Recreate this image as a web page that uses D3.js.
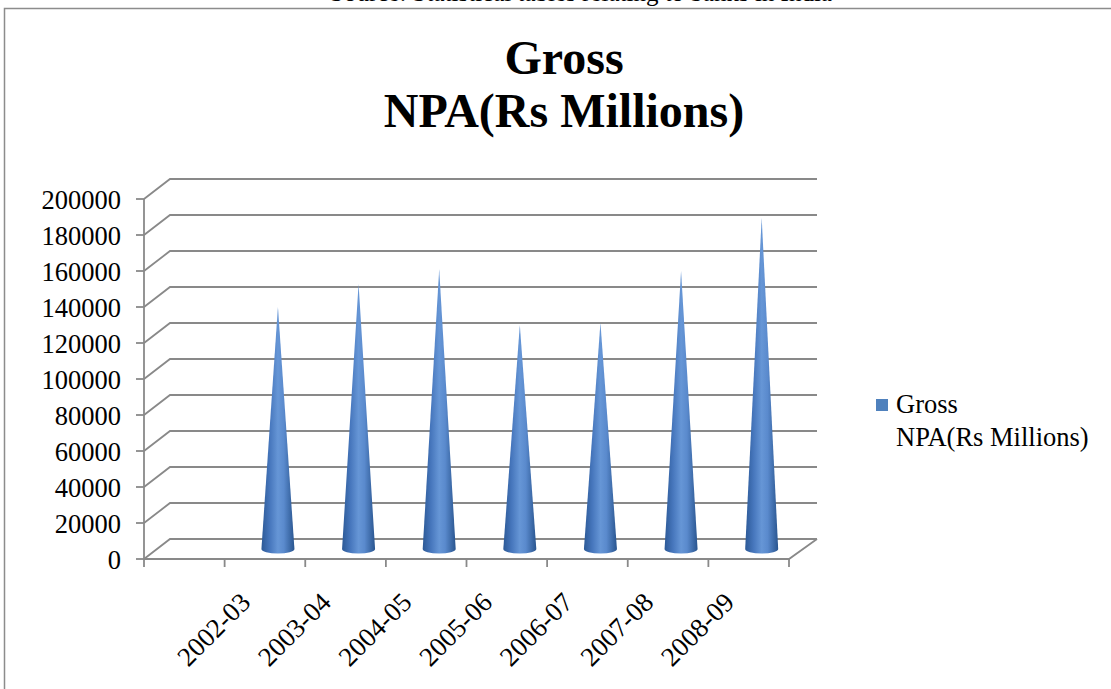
<!DOCTYPE html>
<html>
<head>
<meta charset="utf-8">
<script src="https://cdn.jsdelivr.net/npm/d3@7"></script>
<style>
  html, body { margin: 0; padding: 0; background: #fff; }
  svg { display: block; }
  text { font-family: "Liberation Serif", "Times New Roman", serif; fill: #000; }
</style>
</head>
<body>
<svg id="chart" width="1111" height="689"></svg>
<script>
// ---- data ----
const categories = ["2002-03", "2003-04", "2004-05", "2005-06", "2006-07", "2007-08", "2008-09"];
const values = [134600, 147200, 155400, 124400, 125700, 154400, 184000];
const yTicks = [0, 20000, 40000, 60000, 80000, 100000, 120000, 140000, 160000, 180000, 200000];
const seriesName = ["Gross", "NPA(Rs Millions)"];
const titleLines = ["Gross", "NPA(Rs Millions)"];
const sourceText = "Source: Statistical tables relating to banks in India";

// ---- layout ----
const svg = d3.select("#chart");
const x0 = 144, x1 = 789;      // front floor extent
const yFront0 = 559, yFrontTop = 199;
const depthX = 26, depthY = -20; // 3D depth offset (front -> back)

// Excel-style category axis: one leading empty slot
const domain = ["_blank"].concat(categories);
const x = d3.scaleBand().domain(domain).range([x0, x1]).paddingInner(0).paddingOuter(0);
const y = d3.scaleLinear().domain([0, 200000]).range([yFront0, yFrontTop]);

// gradient for cones
const defs = svg.append("defs");
const grad = defs.append("linearGradient").attr("id", "coneGrad")
  .attr("x1", "0%").attr("x2", "100%").attr("y1", "0%").attr("y2", "0%");
[["0%", "#2c5996"], ["25%", "#4676bc"], ["50%", "#6696d6"], ["68%", "#5a8acd"], ["100%", "#29558f"]]
  .forEach(([o, c]) => grad.append("stop").attr("offset", o).attr("stop-color", c));

// outer border
svg.append("rect").attr("x", 4.5).attr("y", 8.5).attr("width", 1200).attr("height", 800)
  .attr("fill", "none").attr("stroke", "#8c8c8c").attr("stroke-width", 1.5);

// clipped source line at the very top (as in the reference)
svg.append("text").attr("x", 330).attr("y", 1).attr("font-size", 25)
  .attr("fill", "#444").text(sourceText);

// title
const title = svg.append("text").attr("text-anchor", "middle").attr("font-weight", "bold").attr("font-size", 48);
title.append("tspan").attr("x", 564).attr("y", 74).text(titleLines[0]);
title.append("tspan").attr("x", 564).attr("y", 127).text(titleLines[1]);

const gridColor = "#898989";

// gridlines: side wall diagonal + back wall horizontal
const grid = svg.append("g");
yTicks.forEach(t => {
  const yy = y(t);
  grid.append("path")
    .attr("d", `M${x0},${yy} L${x0 + depthX},${yy + depthY} L${x1 + depthX + 2},${yy + depthY}`)
    .attr("fill", "none").attr("stroke", gridColor).attr("stroke-width", 1.8);
});

// floor front edge and right edge
svg.append("path")
  .attr("d", `M${x0},${yFront0} L${x1},${yFront0} L${x1 + depthX + 2},${yFront0 + depthY}`)
  .attr("fill", "none").attr("stroke", gridColor).attr("stroke-width", 1.8);

// y axis
const yAxisG = svg.append("g");
yAxisG.append("line").attr("x1", x0).attr("x2", x0).attr("y1", y(200000)).attr("y2", yFront0 + 8)
  .attr("stroke", gridColor).attr("stroke-width", 1.8);
yTicks.forEach(t => {
  yAxisG.append("line").attr("x1", x0 - 8).attr("x2", x0).attr("y1", y(t)).attr("y2", y(t))
    .attr("stroke", gridColor).attr("stroke-width", 1.8);
  yAxisG.append("text").attr("x", 121).attr("y", y(t)).attr("dy", "0.36em")
    .attr("text-anchor", "end").attr("font-size", 26.5).text(t);
});

// x ticks at category boundaries
const bw = x.bandwidth();
domain.forEach(d => {
  const xx = x(d) + bw;
  svg.append("line").attr("x1", xx).attr("x2", xx).attr("y1", yFront0).attr("y2", yFront0 + 8)
    .attr("stroke", gridColor).attr("stroke-width", 1.8);
});

// x labels
categories.forEach(c => {
  const cx = x(c) + bw / 2 - 13;
  svg.append("text").attr("transform", `translate(${cx},${604}) rotate(-45)`)
    .attr("text-anchor", "end").attr("font-size", 27).text(c);
});

// cones (placed at mid-depth)
const midDX = depthX / 2, midDY = depthY / 2;
const rw = 16.5, ry = 4.5;
const cones = svg.append("g");
categories.forEach((c, i) => {
  const cx = x(c) + bw / 2 + midDX;
  const by = y(0) + midDY;
  const ty = y(values[i]) + midDY;
  cones.append("path")
    .attr("d", `M${cx - rw},${by} L${cx},${ty} L${cx + rw},${by} A${rw},${ry} 0 0 1 ${cx - rw},${by} Z`)
    .attr("fill", "url(#coneGrad)");
});

// legend
svg.append("rect").attr("x", 876).attr("y", 399).attr("width", 12).attr("height", 12).attr("fill", "#4f81bd");
const leg = svg.append("text").attr("font-size", 26.5);
leg.append("tspan").attr("x", 896).attr("y", 413).text(seriesName[0]);
leg.append("tspan").attr("x", 896).attr("y", 446).text(seriesName[1]);
</script>
</body>
</html>
